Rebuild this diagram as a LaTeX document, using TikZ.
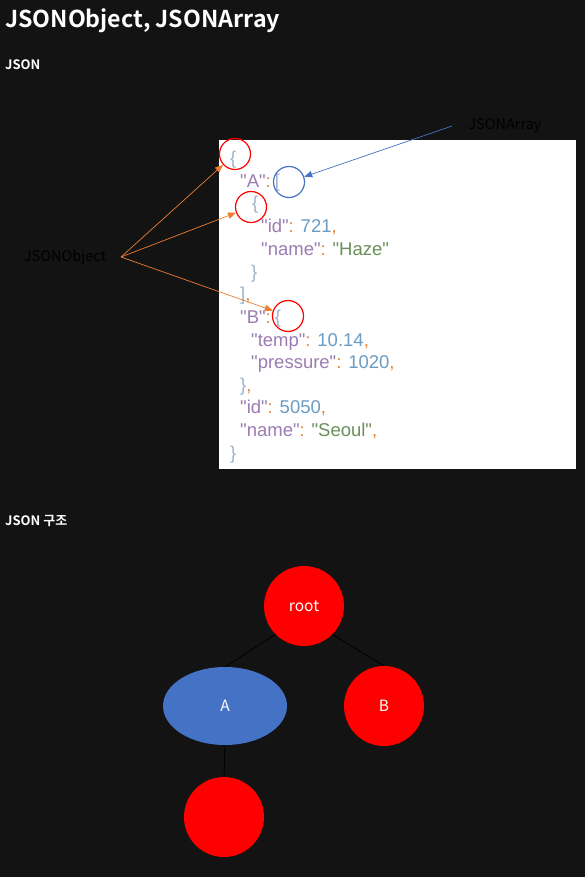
\documentclass[tikz,border=0pt]{standalone}
\usepackage{fontspec}
\setmainfont{Noto Sans CJK KR}[BoldFont={Noto Sans CJK KR Bold}]
\newfontfamily\codefont{Liberation Sans}
\usetikzlibrary{arrows.meta, shapes.geometric, positioning}

\definecolor{pagebg}{HTML}{131313}
\definecolor{jbrace}{HTML}{9FB2C8}
\definecolor{jkey}{HTML}{9B7CB3}
\definecolor{jpun}{HTML}{E5893B}
\definecolor{jnum}{HTML}{6B9CC4}
\definecolor{jstr}{HTML}{6A8F5B}
\definecolor{ringred}{HTML}{FF0000}
\definecolor{ringblue}{HTML}{4472C4}
\definecolor{arrorange}{HTML}{ED7D31}

\newcommand\jbr[1]{\textcolor{jbrace}{#1}}
\newcommand\jkey[1]{\textcolor{jkey}{"#1"}}
\newcommand\jpun[1]{\textcolor{jpun}{#1}}
\newcommand\jnum[1]{\textcolor{jnum}{#1}}
\newcommand\jstr[1]{\textcolor{jstr}{"#1"}}

\begin{document}
\begin{tikzpicture}[x=1pt, y=-1pt, every node/.style={inner sep=0pt}]
        \tikzset{
          heading/.style={anchor=base west, text=white, font=\bfseries\fontsize{13}{15}\selectfont},
          code/.style={anchor=base west, font=\codefont\fontsize{18.5}{22}\selectfont},
          ring/.style={circle, draw=#1, line width=1.2pt, minimum size=31pt},
          lbl/.style={text=black, font=\fontsize{14.5}{17}\selectfont},
          tnode/.style={circle, fill=ringred, minimum size=80pt, text=white,
                 font=\fontsize{15.5}{18}\selectfont}
        }
        \fill[pagebg] (0,0) rectangle (585,877);
        \node[heading, font=\bfseries\fontsize{23.2}{27}\selectfont] (title) at (5,28) {JSONObject, JSONArray};
        \node[heading] (sec1) at (5,70) {JSON};
        \node[heading] (sec2) at (5,525) {JSON 구조};

        % json sample
        \fill[white] (219,140) rectangle (576,469);
        \node[code] (l0)  at (230,165) {\jbr{\{}};
        \node[code] (l1)  at (240,188) {\jkey{A}\jpun{:}\kern4pt\jbr{[}};
        \node[code] (l2)  at (252,210) {\jbr{\{}};
        \node[code] (l3)  at (261,233) {\jkey{id}\jpun{:} \jnum{721}\jpun{,}};
        \node[code] (l4)  at (261,255) {\jkey{name}\jpun{:} \jstr{Haze}};
        \node[code] (l5)  at (251,278) {\jbr{\}}};
        \node[code] (l6)  at (240,300) {\jbr{]}\jpun{,}};
        \node[code] (l7)  at (240,323) {\jkey{B}\jpun{:}\kern4pt\jbr{\{}};
        \node[code] (l8)  at (251,346) {\jkey{temp}\jpun{:} \jnum{10.14}\jpun{,}};
        \node[code] (l9)  at (251,368) {\jkey{pressure}\jpun{:} \jnum{1020}\jpun{,}};
        \node[code] (l10) at (240,391) {\jbr{\}}\jpun{,}};
        \node[code] (l11) at (240,413) {\jkey{id}\jpun{:} \jnum{5050}\jpun{,}};
        \node[code] (l12) at (240,436) {\jkey{name}\jpun{:} \jstr{Seoul}\jpun{,}};
        \node[code] (l13) at (230,459) {\jbr{\}}};

        \node[ring=ringred]  (objtop) at (235,154) {};
        \node[ring=ringblue] (arrA)   at (289,182) {};
        \node[ring=ringred]  (objA)   at (251,207) {};
        \node[ring=ringred]  (objB)   at (288,316) {};

        \node[lbl] (objlbl) at (65,257) {JSONObject};
        \node[lbl] (arrlbl) at (505,126) {JSONArray};
        \coordinate (objsrc) at (121,257);
        \coordinate (arrsrc) at (452,126);
        \draw[-{Triangle[length=8pt, width=6.5pt]}, arrorange, line width=0.7pt]
          (objsrc) -- (objtop);
        \draw[-{Triangle[length=8pt, width=6.5pt]}, arrorange, line width=0.7pt]
          (objsrc) -- (objA);
        \draw[-{Triangle[length=8pt, width=6.5pt]}, arrorange, line width=0.7pt]
          (objsrc) -- (objB);
        \draw[-{Triangle[length=8pt, width=6.5pt]}, ringblue, line width=0.7pt]
          (arrsrc) -- (arrA);

        % tree
        \node[tnode] (root) at (304,606) {root};
        \node[ellipse, fill=ringblue, minimum width=124pt, minimum height=78pt,
              text=white, font=\fontsize{15.5}{18}\selectfont] (A) at (225,706) {A};
        \node[tnode] (B) at (384,706) {B};
        \node[tnode] (A0) at (224,817) {};
        \draw[black, line width=0.8pt] (root.225) -- (A.north);
        \draw[black, line width=0.8pt] (root.315) -- (B.north);
        \draw[black, line width=0.8pt] (A.south) -- (A0.north);
      \end{tikzpicture}
\end{document}
